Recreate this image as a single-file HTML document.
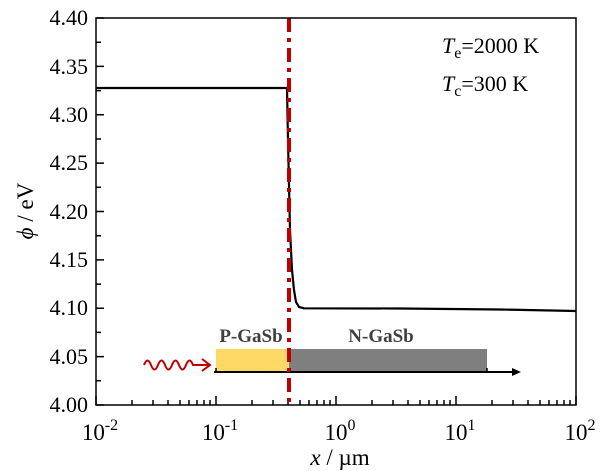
<!DOCTYPE html>
<html><head><style>body{margin:0;background:#fff}svg{display:block}text{font-family:"Liberation Serif",serif}</style></head><body>
<svg width="604" height="471" xmlns="http://www.w3.org/2000/svg" style="font-family:'Liberation Serif',serif">
<rect width="604" height="471" fill="#fff"/>
<g stroke="#000" stroke-width="1.5">
<path d="M132 405v-5M153 405v-5M168 405v-5M180 405v-5M189 405v-5M197 405v-5M204 405v-5M210 405v-5M252 405v-5M273 405v-5M288 405v-5M300 405v-5M309 405v-5M317 405v-5M324 405v-5M330 405v-5M372 405v-5M393 405v-5M408 405v-5M420 405v-5M429 405v-5M437 405v-5M444 405v-5M450 405v-5M492 405v-5M513 405v-5M528 405v-5M540 405v-5M549 405v-5M557 405v-5M564 405v-5M570 405v-5"/>
<path d="M96 405v-9M216 405v-9M336 405v-9M456 405v-9M576 405v-9"/>
<path d="M96 405h8M96 356.6h8M96 308.3h8M96 259.9h8M96 211.5h8M96 163.1h8M96 114.8h8M96 66.4h8M96 18h8"/>
<path d="M96 380.8h5M96 332.4h5M96 284.1h5M96 235.7h5M96 187.3h5M96 139h5M96 90.6h5M96 42.2h5"/>
</g>
<rect x="216" y="349" width="73" height="23" fill="#ffd966"/>
<rect x="289" y="349" width="198" height="23" fill="#7f7f7f"/>
<line x1="214" y1="372" x2="514" y2="372" stroke="#000" stroke-width="2"/>
<path d="M512 368l9 4l-9 4z" fill="#000"/>
<line x1="216" y1="368" x2="216" y2="372" stroke="#000" stroke-width="1.5"/>
<line x1="487" y1="368" x2="487" y2="372" stroke="#000" stroke-width="1.5"/>
<path d="M144 365 q3.5 -9 7 0 t7 0 t7 0 t7 0 t7 0 t7 0 t7 0 L209 365" fill="none" stroke="#c00000" stroke-width="2"/>
<path d="M202 359l8 6l-8 6" fill="none" stroke="#c00000" stroke-width="2"/>
<text x="251" y="342" font-size="19" font-weight="bold" fill="#404040" text-anchor="middle">P-GaSb</text>
<text x="381" y="342" font-size="19" font-weight="bold" fill="#404040" text-anchor="middle">N-GaSb</text>
<path d="M96 88H287L288 140L290 230L292 270L294 290L296 302L299 307L304 308.3L400 308.5L500 309.5L576 311" fill="none" stroke="#000" stroke-width="2.2"/>
<line x1="289" y1="18" x2="289" y2="405" stroke="#c00000" stroke-width="4" stroke-dasharray="14,6,4,6"/>
<rect x="96" y="18" width="480" height="387" fill="none" stroke="#000" stroke-width="1.5"/>
<g font-size="22" text-anchor="end">
<text x="88" y="412">4.00</text><text x="88" y="364">4.05</text><text x="88" y="315">4.10</text><text x="88" y="267">4.15</text><text x="88" y="219">4.20</text><text x="88" y="170">4.25</text><text x="88" y="122">4.30</text><text x="88" y="74">4.35</text><text x="88" y="25">4.40</text>
</g>
<g font-size="23" text-anchor="middle">
<text x="100" y="440">10<tspan dy="-10" font-size="16">-2</tspan></text>
<text x="220" y="440">10<tspan dy="-10" font-size="16">-1</tspan></text>
<text x="340" y="440">10<tspan dy="-10" font-size="16">0</tspan></text>
<text x="460" y="440">10<tspan dy="-10" font-size="16">1</tspan></text>
<text x="580" y="440">10<tspan dy="-10" font-size="16">2</tspan></text>
</g>
<text x="340" y="465" font-size="23" text-anchor="middle"><tspan font-style="italic">x</tspan> / µm</text>
<text transform="translate(33 211) rotate(-90)" font-size="23" text-anchor="middle"><tspan font-style="italic">ϕ</tspan> / eV</text>
<text x="442" y="53" font-size="22"><tspan font-style="italic">T</tspan><tspan font-size="16" dy="5">e</tspan><tspan dy="-5">=2000 K</tspan></text>
<text x="442" y="91" font-size="22"><tspan font-style="italic">T</tspan><tspan font-size="16" dy="5">c</tspan><tspan dy="-5">=300 K</tspan></text>
</svg>
</body></html>
